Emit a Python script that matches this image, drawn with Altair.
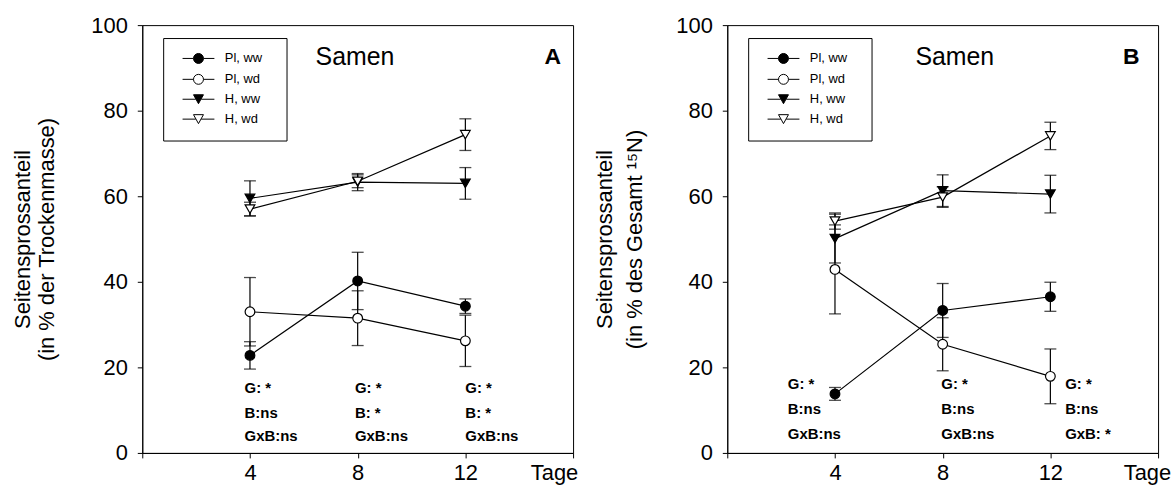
import altair as alt
import pandas as pd

# ---------------- data ----------------
days = [4, 8, 12]
series = ["Pl, ww", "Pl, wd", "H, ww", "H, wd"]

# Panel A: Seitensprossanteil in % der Trockenmasse
a_pl_ww = [22.8, 40.2, 34.3]
a_pl_ww_err = [3.2, 6.7, 1.7]
a_pl_wd = [33.0, 31.5, 26.2]
a_pl_wd_err = [8.0, 6.4, 6.0]
a_h_ww = [59.5, 63.3, 63.0]
a_h_ww_err = [4.1, 2.0, 3.7]
a_h_wd = [57.0, 63.5, 74.4]
a_h_wd_err = [1.6, 1.5, 3.7]

# Panel B: Seitensprossanteil in % des Gesamt 15N
b_pl_ww = [13.8, 33.3, 36.5]
b_pl_ww_err = [1.5, 6.3, 3.4]
b_pl_wd = [42.9, 25.4, 17.9]
b_pl_wd_err = [10.4, 6.2, 6.4]
b_h_ww = [50.1, 61.3, 60.5]
b_h_ww_err = [5.7, 3.7, 4.4]
b_h_wd = [54.2, 59.8, 74.1]
b_h_wd_err = [1.9, 2.4, 3.2]

# statistics annotations (one column per sampling day)
a_stat_x = [3.8, 7.9, 12.0]
a_stat_y = [15.2, 9.4, 4.0]
a_stats = [["G: *", "B:ns", "GxB:ns"],
           ["G: *", "B: *", "GxB:ns"],
           ["G: *", "B: *", "GxB:ns"]]
b_stat_x = [2.25, 7.95, 12.55]
b_stat_y = [16.0, 10.3, 4.4]
b_stats = [["G: *", "B:ns", "GxB:ns"],
           ["G: *", "B:ns", "GxB:ns"],
           ["G: *", "B:ns", "GxB: *"]]

x_ticks = [0, 4, 8, 12, 16]
y_ticks = [0, 20, 40, 60, 80, 100]

FONT = "Liberation Sans"
W, H = 433, 430

shapes = ["circle", "circle", "triangle-down", "triangle-down"]
fills = ["black", "white", "black", "white"]
strokes = ["black", "black", "black", "black"]
leg_paths = [
    "M-3.2,0L-1,0M1,0L3.2,0M-1,0A1,1 0 1,0 1,0A1,1 0 1,0 -1,0Z",
    "M-3.2,0L-1,0M1,0L3.2,0M-1,0A1,1 0 1,0 1,0A1,1 0 1,0 -1,0Z",
    "M-3.2,0L-0.55,0M0.55,0L3.2,0M-1,-0.9L1,-0.9L0,0.9Z",
    "M-3.2,0L-0.55,0M0.55,0L3.2,0M-1,-0.9L1,-0.9L0,0.9Z",
]


def make_df(vals, errs):
    rows = []
    for s, v, e in zip(series, vals, errs):
        for d, m, sd in zip(days, v, e):
            rows.append({"Tag": d, "Wert": m, "lo": m - sd, "hi": m + sd, "series": s})
    return pd.DataFrame(rows)


def make_stats(xs, ys, texts):
    rows = []
    for x, col in zip(xs, texts):
        for y, t in zip(ys, col):
            rows.append({"x": x, "y": y, "t": t})
    return pd.DataFrame(rows)


def panel(df, stats, ytitle, title_lh, title_pad, letter, samen_x, letter_x, tage_x, legx, legy):
    xs = alt.Scale(domain=[0, 16], nice=False)
    ys = alt.Scale(domain=[0, 100], nice=False)
    xax = alt.Axis(values=x_ticks, grid=False, title="Tage", titleX=tage_x, titleY=10,
                   titleAlign="left", titleBaseline="top", titleFontWeight="normal",
                   titleFontSize=22, titleFont=FONT, titleAngle=0, labelPadding=5,
                   labelExpr="datum.value == 0 || datum.value == 16 ? '' : datum.label")
    yax = alt.Axis(values=y_ticks, grid=False, title=ytitle, titlePadding=title_pad,
                   titleLineHeight=title_lh, titleFontSize=22, titleFontWeight="normal",
                   titleFont=FONT)
    base = alt.Chart(df)
    lines = base.mark_line(color="black", strokeWidth=1.2).encode(
        x=alt.X("Tag:Q", scale=xs, axis=xax),
        y=alt.Y("Wert:Q", scale=ys, axis=yax),
        detail="series:N",
    )
    rules = base.mark_rule(color="black", strokeWidth=1.2).encode(
        x="Tag:Q", y="lo:Q", y2="hi:Q")
    cap_lo = base.mark_tick(color="black", thickness=1.3, size=12, orient="horizontal").encode(
        x="Tag:Q", y="lo:Q")
    cap_hi = base.mark_tick(color="black", thickness=1.3, size=12, orient="horizontal").encode(
        x="Tag:Q", y="hi:Q")
    pts = base.mark_point(opacity=1, size=95, stroke="black", strokeWidth=1.2).encode(
        x="Tag:Q", y="Wert:Q",
        shape=alt.Shape("series:N", scale=alt.Scale(domain=series, range=shapes), legend=None),
        fill=alt.Fill("series:N", scale=alt.Scale(domain=series, range=fills), legend=None),
    )
    leg = alt.Legend(title=None, orient="none", legendX=legx, legendY=legy,
                     strokeColor="black", padding=14, labelFontSize=13, labelFont=FONT,
                     labelColor="black", rowPadding=6, symbolStrokeColor="black",
                     symbolStrokeWidth=1, symbolOffset=15, labelOffset=20,
                     symbolSize=100, fillColor="white",
                     labelExpr="datum.label + '\u2800'")
    legend_layer = base.transform_filter("false").mark_point(
        opacity=1, size=100, strokeWidth=1).encode(
        shape=alt.Shape("series:N", scale=alt.Scale(domain=series, range=leg_paths), legend=leg),
        fill=alt.Fill("series:N", scale=alt.Scale(domain=series, range=fills), legend=leg),
        color=alt.Color("series:N", scale=alt.Scale(domain=series, range=strokes), legend=leg),
    )
    stat_text = alt.Chart(stats).mark_text(align="left", baseline="middle", fontWeight="bold",
                                           fontSize=15, font=FONT, color="black").encode(
        x="x:Q", y="y:Q", text="t:N")
    lab = pd.DataFrame({"x": [samen_x, letter_x], "y": [92.6, 92.6], "t": ["Samen", letter]})
    samen = alt.Chart(lab.iloc[[0]]).mark_text(fontSize=25, font=FONT, color="black",
                                               baseline="middle").encode(
        x="x:Q", y="y:Q", text="t:N")
    letter_t = alt.Chart(lab.iloc[[1]]).mark_text(fontSize=23, font=FONT, fontWeight="bold",
                                                  color="black", baseline="middle").encode(
        x="x:Q", y="y:Q", text="t:N")
    return alt.layer(lines, rules, cap_lo, cap_hi, pts, legend_layer, stat_text, samen,
                     letter_t).resolve_scale(shape="independent", fill="independent",
                                             color="independent").properties(width=W, height=H)


dfA = make_df([a_pl_ww, a_pl_wd, a_h_ww, a_h_wd], [a_pl_ww_err, a_pl_wd_err, a_h_ww_err, a_h_wd_err])
dfB = make_df([b_pl_ww, b_pl_wd, b_h_ww, b_h_wd], [b_pl_ww_err, b_pl_wd_err, b_h_ww_err, b_h_wd_err])

pA = panel(dfA, make_stats(a_stat_x, a_stat_y, a_stats),
           ["Seitensprossanteil", "(in % der Trockenmasse)"], 24, 33, "A", 7.9, 15.25,
           W - 43, 21, 13)
pB = panel(dfB, make_stats(b_stat_x, b_stat_y, b_stats),
           ["Seitensprossanteil", "(in % des Gesamt \u00b9\u2075N)"], 30, 30, "B", 8.45, 15.0,
           W - 35, 21, 13)

chart = alt.hconcat(pA, pB, spacing=13).resolve_scale(
    shape="independent", fill="independent", color="independent",
    x="independent", y="independent"
).configure(font=FONT, padding={"left": 10, "top": 12, "right": 0, "bottom": 0}).configure_view(
    stroke="black", strokeWidth=1
).configure_axis(
    domainColor="black", tickColor="black", labelColor="black", titleColor="black",
    labelFontSize=22, labelFont=FONT, tickSize=5, labelPadding=10, domainWidth=1, tickWidth=1
)

chart.save("out.html", embed_options={"renderer": "svg", "actions": False})
